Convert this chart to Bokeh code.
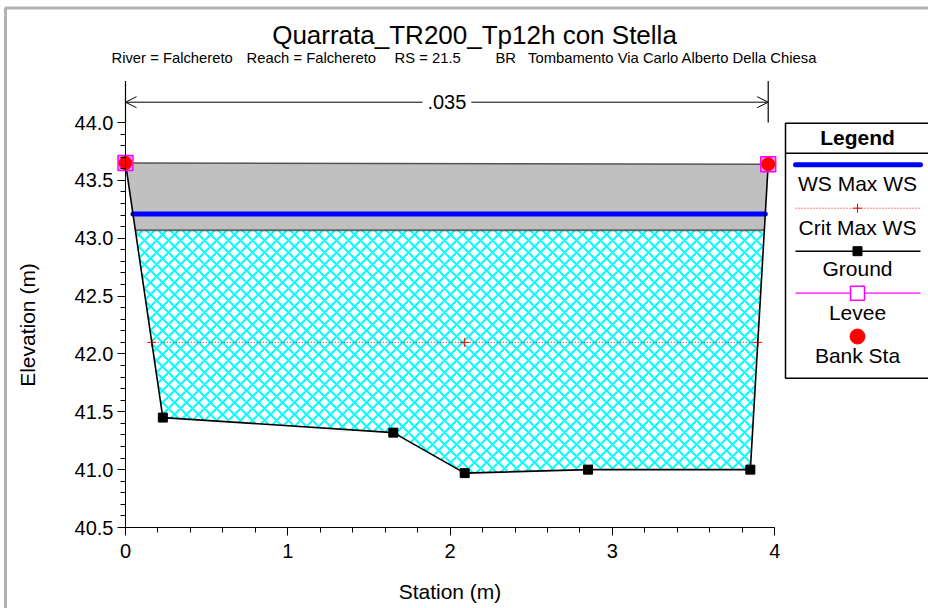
import numpy as np
from bokeh.plotting import figure
from bokeh.models import (Range1d, SingleIntervalTicker, NumeralTickFormatter, Label,
                          Arrow, OpenHead, BoxAnnotation, LinearAxis)
from bokeh.core.properties import value
from bokeh.embed import file_html
from bokeh.resources import INLINE

# ---------------- data ----------------
TITLE = "Quarrata_TR200_Tp12h con Stella"
SUBTITLE_PARTS = ["River = Falchereto", "Reach = Falchereto", "RS = 21.5", "BR",
                  "Tombamento Via Carlo Alberto Della Chiesa"]
X_LABEL = "Station (m)"
Y_LABEL = "Elevation (m)"

ground_station = [0.0, 0.23, 1.65, 2.09, 2.85, 3.85, 3.96]
ground_elev = [43.65, 41.45, 41.32, 40.97, 41.00, 41.00, 43.64]

bank_station = [0.0, 3.96]
bank_elev = [43.65, 43.64]
levee_station = [0.0, 3.96]
levee_elev = [43.65, 43.64]

ws_max = 43.21
crit_max = 42.10
crit_marker_station = [0.162, 2.09, 3.896]

deck_station = [0.0, 3.96]
deck_high = [43.65, 43.64]
deck_low = 43.07

n_breaks = [0.0, 3.96]
n_values = [".035"]
n_top = 44.36

x_ticks_range = (0, 4)
y_ticks_range = (40.5, 44.0)

legend_labels = ["WS Max WS", "Crit Max WS", "Ground", "Levee", "Bank Sta"]

FONT = "Liberation Sans"

# ---------- layout helpers (pixel -> data) ----------
W, H = 928, 608
PX_X0, PX_PER_X = 125.0, 162.3
PX_Y0, PX_PER_Y = 527.0, 115.7


def sx(px):
    return (px - PX_X0) / PX_PER_X


def sy(py):
    return 40.5 + (PX_Y0 - py) / PX_PER_Y


def crossings(level):
    gx, gy = np.array(ground_station), np.array(ground_elev)
    xs = []
    for i in range(len(gx) - 1):
        y0, y1 = gy[i], gy[i + 1]
        if (y0 - level) * (y1 - level) <= 0 and y0 != y1:
            xs.append(gx[i] + (level - y0) * (gx[i + 1] - gx[i]) / (y1 - y0))
    return xs[0], xs[-1]


p = figure(width=W, height=H,
           x_range=Range1d(sx(0), sx(W)), y_range=Range1d(sy(H), sy(0)),
           output_backend="svg", toolbar_location=None, title=None,
           x_axis_location=None, y_axis_location=None,
           min_border_left=0, min_border_right=0, min_border_top=0, min_border_bottom=0,
           background_fill_color="white", border_fill_color="white", outline_line_color=None)
p.xgrid.visible = False
p.ygrid.visible = False

# water (hatched)
wl, wr = crossings(ws_max)
water_x = [wl] + [x for x, y in zip(ground_station, ground_elev) if wl < x < wr] + [wr]
water_y = [ws_max] + [y for x, y in zip(ground_station, ground_elev) if wl < x < wr] + [ws_max]
p.patch(water_x, water_y, fill_alpha=0, line_alpha=0,
        hatch_pattern="diagonal_cross", hatch_color="#00FFFF", hatch_scale=12, hatch_weight=2)

# bridge deck
dl, dr = crossings(deck_low)
p.patch([deck_station[0], deck_station[1], dr, dl], [deck_high[0], deck_high[1], deck_low, deck_low],
        fill_color="#C0C0C0", line_alpha=0)
p.line(deck_station, deck_high, line_color="#555555", line_width=1.5)
p.line([dl, dr], [deck_low, deck_low], line_color="#666666", line_width=2)

# WS line
p.line([wl, wr], [ws_max, ws_max], line_color="#0000FF", line_width=5, line_cap="round")

# crit line
cl, cr = crossings(crit_max)
p.line([cl, cr], [crit_max, crit_max], line_color="#FF0000", line_width=1, line_dash="1 2")
p.scatter(crit_marker_station, [crit_max] * len(crit_marker_station), marker="cross",
          size=9, line_color="#FF0000", line_width=1)

# ground
p.line(ground_station, ground_elev, line_color="black", line_width=1.6)
p.scatter(ground_station, ground_elev, marker="square", size=9, fill_color="black", line_color="black")

# levee & bank
p.scatter(levee_station, levee_elev, marker="square", size=15, fill_color="#FF99FF",
          line_color="#FF00FF", line_width=1.5)
p.scatter(bank_station, bank_elev, marker="circle", size=13, fill_color="#FF0000", line_color="#FF0000")

# manning n
p.segment(n_breaks, [y_ticks_range[1]] * len(n_breaks), n_breaks, [n_top] * len(n_breaks),
          line_color="black", line_width=1.2)
n_y = sy(101.7)
p.add_layout(Arrow(x_start=n_breaks[0], y_start=n_y, x_end=n_breaks[1], y_end=n_y,
                   start=OpenHead(size=11, line_width=1), end=OpenHead(size=11, line_width=1),
                   line_width=1, line_color="black"))
p.add_layout(Label(x=(n_breaks[0] + n_breaks[1]) / 2, y=n_y, text=n_values[0],
                   text_align="center", text_baseline="middle", text_font=FONT,
                   text_font_size="20px", text_color="black",
                   background_fill_color="white", padding=5))

# titles
p.add_layout(Label(x=sx(474), y=sy(34), text=TITLE, text_align="center", text_baseline="middle",
                   text_font=FONT, text_font_size="26px", text_color="black"))
sub_left_px = [111, 246, 394, 495, 527.5]
for txt, lp in zip(SUBTITLE_PARTS, sub_left_px):
    p.add_layout(Label(x=sx(lp), y=sy(57.5), text=txt, text_align="left", text_baseline="middle",
                       text_font=FONT, text_font_size="14.8px", text_color="black"))

# axes (fixed at station 0 and elevation 40.5)
xaxis = LinearAxis(fixed_location=y_ticks_range[0], axis_label=X_LABEL,
                   ticker=SingleIntervalTicker(interval=1, num_minor_ticks=5),
                   formatter=NumeralTickFormatter(format="0"), bounds=x_ticks_range)
yaxis = LinearAxis(fixed_location=x_ticks_range[0], axis_label=Y_LABEL,
                   ticker=SingleIntervalTicker(interval=0.5, num_minor_ticks=5),
                   formatter=NumeralTickFormatter(format="0.0"), bounds=y_ticks_range)
for ax in (xaxis, yaxis):
    ax.axis_line_color = "black"
    ax.major_tick_line_color = "black"
    ax.minor_tick_line_color = "black"
    ax.major_tick_out = 8
    ax.major_tick_in = 0
    ax.minor_tick_out = 5
    ax.minor_tick_in = 0
    ax.major_label_text_font = FONT
    ax.major_label_text_font_size = "20px"
    ax.major_label_text_color = "black"
    ax.axis_label_text_font = FONT
    ax.axis_label_text_font_size = "21px"
    ax.axis_label_text_font_style = "normal"
    ax.axis_label_text_color = "black"
xaxis.major_label_standoff = 8
xaxis.axis_label_standoff = 19
yaxis.major_label_standoff = 4
yaxis.axis_label_standoff = 33
p.add_layout(xaxis, "below")
p.add_layout(yaxis, "left")

# legend (drawn manually: symbol above label)
L, R = sx(785), sx(960)
p.quad(left=L, right=R, top=sy(122.7), bottom=sy(377.7), fill_color="white",
       line_color="black", line_width=1.5)
p.segment(L, sy(152.7), R, sy(152.7), line_color="black", line_width=1.5)
cx = sx(857)
lx = [sx(795), sx(920)]
p.text([cx], [sy(137)], text=["Legend"], text_align="center", text_baseline="middle",
       text_font=value(FONT), text_font_size="21px", text_font_style="bold", text_color="black")
sym_y = [sy(164.3), sy(207.7), sy(250.7), sy(292.7), sy(336)]
lab_y = [sy(183.3), sy(226.7), sy(268.3), sy(311.7), sy(355)]
p.line(lx, [sym_y[0]] * 2, line_color="#0000FF", line_width=5, line_cap="round")
p.line(lx, [sym_y[1]] * 2, line_color="#FF0000", line_width=1, line_dash="1 2")
p.scatter([cx], [sym_y[1]], marker="cross", size=9, line_color="#FF0000")
p.line(lx, [sym_y[2]] * 2, line_color="black", line_width=1.5)
p.scatter([cx], [sym_y[2]], marker="square", size=9, fill_color="black", line_color="black")
p.line(lx, [sym_y[3]] * 2, line_color="#FF00FF", line_width=1.2)
p.scatter([cx], [sym_y[3]], marker="square", size=14, fill_color="white", line_color="#FF00FF", line_width=1.5)
p.scatter([cx], [sym_y[4]], marker="circle", size=15, fill_color="#FF0000", line_color="#FF0000")
p.text([cx] * len(legend_labels), lab_y, text=legend_labels, text_align="center", text_baseline="middle",
       text_font=value(FONT), text_font_size="21px", text_color="black")

# outer border
p.add_layout(BoxAnnotation(left=sx(5), right=sx(1200), top=sy(7.5), bottom=sy(900),
                           fill_alpha=0, line_color="black", line_width=3))

open("out.html", "w").write(file_html(p, INLINE))
